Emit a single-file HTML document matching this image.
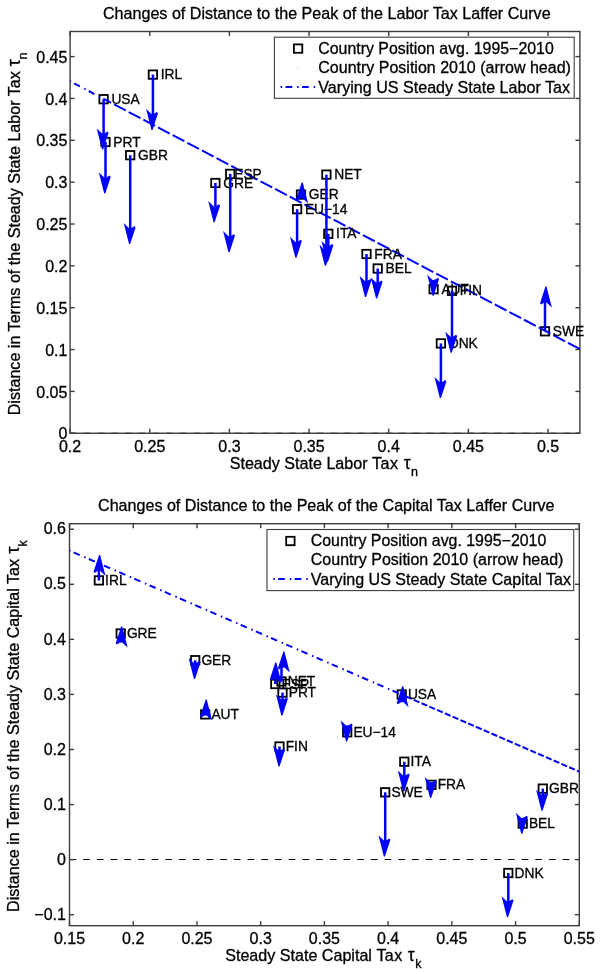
<!DOCTYPE html>
<html><head><meta charset="utf-8"><style>
html,body{margin:0;padding:0;background:#fff;}
body{width:600px;height:974px;overflow:hidden;}
svg{display:block;will-change:transform;}
text{font-family:"Liberation Sans", sans-serif;font-size:16px;fill:#000;stroke:#000;stroke-width:0.3px;}
text.lb{font-size:13.8px;}
.tau{font-size:17.5px;}
.sub{font-size:12.5px;}
</style></head><body>
<svg width="600" height="974" viewBox="0 0 600 974">
<rect width="600" height="974" fill="#fff"/>

<text x="326.8" y="18.6" text-anchor="middle" style="font-size:16.1px">Changes of Distance to the Peak of the Labor Tax Laffer Curve</text>
<line x1="70.1" y1="433.25" x2="579.9" y2="433.25" stroke="#000" stroke-width="1.1" stroke-dasharray="6.7 7"/>
<g stroke="#3c3c3c" stroke-width="1.4" fill="none">
<line x1="70.1" y1="433.25" x2="70.1" y2="428.75"/>
<line x1="70.1" y1="31.5" x2="70.1" y2="36"/>
<line x1="149.76" y1="433.25" x2="149.76" y2="428.75"/>
<line x1="149.76" y1="31.5" x2="149.76" y2="36"/>
<line x1="229.41" y1="433.25" x2="229.41" y2="428.75"/>
<line x1="229.41" y1="31.5" x2="229.41" y2="36"/>
<line x1="309.07" y1="433.25" x2="309.07" y2="428.75"/>
<line x1="309.07" y1="31.5" x2="309.07" y2="36"/>
<line x1="388.73" y1="433.25" x2="388.73" y2="428.75"/>
<line x1="388.73" y1="31.5" x2="388.73" y2="36"/>
<line x1="468.38" y1="433.25" x2="468.38" y2="428.75"/>
<line x1="468.38" y1="31.5" x2="468.38" y2="36"/>
<line x1="548.04" y1="433.25" x2="548.04" y2="428.75"/>
<line x1="548.04" y1="31.5" x2="548.04" y2="36"/>
<line x1="70.1" y1="433.25" x2="74.6" y2="433.25"/>
<line x1="579.9" y1="433.25" x2="575.4" y2="433.25"/>
<line x1="70.1" y1="391.4" x2="74.6" y2="391.4"/>
<line x1="579.9" y1="391.4" x2="575.4" y2="391.4"/>
<line x1="70.1" y1="349.55" x2="74.6" y2="349.55"/>
<line x1="579.9" y1="349.55" x2="575.4" y2="349.55"/>
<line x1="70.1" y1="307.7" x2="74.6" y2="307.7"/>
<line x1="579.9" y1="307.7" x2="575.4" y2="307.7"/>
<line x1="70.1" y1="265.85" x2="74.6" y2="265.85"/>
<line x1="579.9" y1="265.85" x2="575.4" y2="265.85"/>
<line x1="70.1" y1="224.01" x2="74.6" y2="224.01"/>
<line x1="579.9" y1="224.01" x2="575.4" y2="224.01"/>
<line x1="70.1" y1="182.16" x2="74.6" y2="182.16"/>
<line x1="579.9" y1="182.16" x2="575.4" y2="182.16"/>
<line x1="70.1" y1="140.31" x2="74.6" y2="140.31"/>
<line x1="579.9" y1="140.31" x2="575.4" y2="140.31"/>
<line x1="70.1" y1="98.46" x2="74.6" y2="98.46"/>
<line x1="579.9" y1="98.46" x2="575.4" y2="98.46"/>
<line x1="70.1" y1="56.61" x2="74.6" y2="56.61"/>
<line x1="579.9" y1="56.61" x2="575.4" y2="56.61"/>
<rect x="70.1" y="31.5" width="509.8" height="401.75" fill="none"/>
</g>
<text x="70.1" y="451.85" text-anchor="middle">0.2</text>
<text x="149.76" y="451.85" text-anchor="middle">0.25</text>
<text x="229.41" y="451.85" text-anchor="middle">0.3</text>
<text x="309.07" y="451.85" text-anchor="middle">0.35</text>
<text x="388.73" y="451.85" text-anchor="middle">0.4</text>
<text x="468.38" y="451.85" text-anchor="middle">0.45</text>
<text x="548.04" y="451.85" text-anchor="middle">0.5</text>
<text x="67.4" y="439.35" text-anchor="end">0</text>
<text x="67.4" y="397.5" text-anchor="end">0.05</text>
<text x="67.4" y="355.65" text-anchor="end">0.1</text>
<text x="67.4" y="313.8" text-anchor="end">0.15</text>
<text x="67.4" y="271.95" text-anchor="end">0.2</text>
<text x="67.4" y="230.11" text-anchor="end">0.25</text>
<text x="67.4" y="188.26" text-anchor="end">0.3</text>
<text x="67.4" y="146.41" text-anchor="end">0.35</text>
<text x="67.4" y="104.56" text-anchor="end">0.4</text>
<text x="67.4" y="62.71" text-anchor="end">0.45</text>
<rect x="148.7" y="70.4" width="8.4" height="8.4" fill="none" stroke="#000" stroke-width="1.8"/>
<rect x="99.4" y="95" width="8.4" height="8.4" fill="none" stroke="#000" stroke-width="1.8"/>
<rect x="101.3" y="137.8" width="8.4" height="8.4" fill="none" stroke="#000" stroke-width="1.8"/>
<rect x="126" y="151" width="8.4" height="8.4" fill="none" stroke="#000" stroke-width="1.8"/>
<rect x="226" y="169.7" width="8.4" height="8.4" fill="none" stroke="#000" stroke-width="1.8"/>
<rect x="211.2" y="178.8" width="8.4" height="8.4" fill="none" stroke="#000" stroke-width="1.8"/>
<rect x="322.2" y="170.4" width="8.4" height="8.4" fill="none" stroke="#000" stroke-width="1.8"/>
<rect x="296.8" y="190.4" width="8.4" height="8.4" fill="none" stroke="#000" stroke-width="1.8"/>
<rect x="292.9" y="205" width="8.4" height="8.4" fill="none" stroke="#000" stroke-width="1.8"/>
<rect x="324.1" y="229.6" width="8.4" height="8.4" fill="none" stroke="#000" stroke-width="1.8"/>
<rect x="362.3" y="249.8" width="8.4" height="8.4" fill="none" stroke="#000" stroke-width="1.8"/>
<rect x="373.5" y="264.3" width="8.4" height="8.4" fill="none" stroke="#000" stroke-width="1.8"/>
<rect x="429.4" y="285" width="8.4" height="8.4" fill="none" stroke="#000" stroke-width="1.8"/>
<rect x="447.8" y="286.6" width="8.4" height="8.4" fill="none" stroke="#000" stroke-width="1.8"/>
<rect x="436.7" y="339.2" width="8.4" height="8.4" fill="none" stroke="#000" stroke-width="1.8"/>
<rect x="540.8" y="327.1" width="8.4" height="8.4" fill="none" stroke="#000" stroke-width="1.8"/>
<line x1="70.1" y1="81.2" x2="103.7" y2="98.86" stroke="#0000ff" stroke-width="2" stroke-dasharray="1.5 3.6 6.5 4.9" stroke-dashoffset="0.52"/>
<line x1="103.7" y1="98.86" x2="579.9" y2="349.1" stroke="#0000ff" stroke-width="2" stroke-dasharray="13.2 3.34" stroke-dashoffset="4.8"/>
<text x="160.7" y="79.2" class="lb">IRL</text>
<text x="111.4" y="103.8" class="lb">USA</text>
<text x="113.3" y="146.6" class="lb">PRT</text>
<text x="138" y="159.8" class="lb">GBR</text>
<text x="234.2" y="178.5" class="lb">ESP</text>
<text x="223.2" y="187.6" class="lb">GRE</text>
<text x="334.2" y="179.2" class="lb">NET</text>
<text x="308.8" y="199.2" class="lb">GER</text>
<text x="304.9" y="213.8" class="lb">EU−14</text>
<text x="336.1" y="238.4" class="lb">ITA</text>
<text x="374.3" y="258.6" class="lb">FRA</text>
<text x="385.5" y="273.1" class="lb">BEL</text>
<text x="441.4" y="293.8" class="lb">AUT</text>
<text x="459.8" y="295.4" class="lb">FIN</text>
<text x="448.7" y="348" class="lb">DNK</text>
<text x="552.8" y="335.9" class="lb">SWE</text>
<line x1="152.9" y1="74.6" x2="152.9" y2="115" stroke="#0000ff" stroke-width="2.5"/>
<polygon points="151.45,130 152.55,130 158,113.3 156.8,112 154.1,113.8 151.5,114.1 146.1,108.9" fill="#0000ff"/>
<line x1="103.6" y1="99.2" x2="103.6" y2="134.5" stroke="#0000ff" stroke-width="2.5"/>
<polygon points="102.05,149.5 103.15,149.5 108.6,132.8 107.4,131.5 104.7,133.3 102.1,133.6 96.7,128.4" fill="#0000ff"/>
<line x1="105.5" y1="142" x2="105.5" y2="178.5" stroke="#0000ff" stroke-width="2.5"/>
<polygon points="104.2,193.5 105.3,193.5 110.75,176.8 109.55,175.5 106.85,177.3 104.25,177.6 98.85,172.4" fill="#0000ff"/>
<line x1="130.2" y1="155.2" x2="130.2" y2="229.1" stroke="#0000ff" stroke-width="2.5"/>
<polygon points="129.05,244.1 130.15,244.1 135.6,227.4 134.4,226.1 131.7,227.9 129.1,228.2 123.7,223" fill="#0000ff"/>
<line x1="230.2" y1="173.9" x2="230.2" y2="237.2" stroke="#0000ff" stroke-width="2.5"/>
<polygon points="228.45,252.2 229.55,252.2 235,235.5 233.8,234.2 231.1,236 228.5,236.3 223.1,231.1" fill="#0000ff"/>
<line x1="215.4" y1="183" x2="215.4" y2="207.2" stroke="#0000ff" stroke-width="2.5"/>
<polygon points="213.55,222.2 214.65,222.2 220.1,205.5 218.9,204.2 216.2,206 213.6,206.3 208.2,201.1" fill="#0000ff"/>
<line x1="326.4" y1="174.6" x2="326.4" y2="250.8" stroke="#0000ff" stroke-width="2.5"/>
<polygon points="324.85,265.8 325.95,265.8 331.4,249.1 330.2,247.8 327.5,249.6 324.9,249.9 319.5,244.7" fill="#0000ff"/>
<polygon points="302.75,182.4 301.65,182.4 296.2,199.1 297.4,200.4 300.1,198.6 302.7,198.3 308.1,203.5" fill="#0000ff"/>
<line x1="297.1" y1="209.2" x2="297.1" y2="242.8" stroke="#0000ff" stroke-width="2.5"/>
<polygon points="295.35,257.8 296.45,257.8 301.9,241.1 300.7,239.8 298,241.6 295.4,241.9 290,236.7" fill="#0000ff"/>
<line x1="328.3" y1="233.8" x2="328.3" y2="247" stroke="#0000ff" stroke-width="2.5"/>
<polygon points="326.85,262 327.95,262 333.4,245.3 332.2,244 329.5,245.8 326.9,246.1 321.5,240.9" fill="#0000ff"/>
<line x1="366.5" y1="254" x2="366.5" y2="282" stroke="#0000ff" stroke-width="2.5"/>
<polygon points="364.95,297 366.05,297 371.5,280.3 370.3,279 367.6,280.8 365,281.1 359.6,275.9" fill="#0000ff"/>
<line x1="377.7" y1="268.5" x2="377.7" y2="283.5" stroke="#0000ff" stroke-width="2.5"/>
<polygon points="376.05,298.5 377.15,298.5 382.6,281.8 381.4,280.5 378.7,282.3 376.1,282.6 370.7,277.4" fill="#0000ff"/>
<polygon points="432.55,295.8 433.65,295.8 439.1,279.1 437.9,277.8 435.2,279.6 432.6,279.9 427.2,274.7" fill="#0000ff"/>
<line x1="452" y1="290.8" x2="452" y2="337.8" stroke="#0000ff" stroke-width="2.5"/>
<polygon points="450.65,352.8 451.75,352.8 457.2,336.1 456,334.8 453.3,336.6 450.7,336.9 445.3,331.7" fill="#0000ff"/>
<line x1="440.9" y1="343.4" x2="440.9" y2="383.1" stroke="#0000ff" stroke-width="2.5"/>
<polygon points="439.85,398.1 440.95,398.1 446.4,381.4 445.2,380.1 442.5,381.9 439.9,382.2 434.5,377" fill="#0000ff"/>
<line x1="545" y1="331.3" x2="545" y2="301.5" stroke="#0000ff" stroke-width="2.5"/>
<polygon points="546.55,286.5 545.45,286.5 540,303.2 541.2,304.5 543.9,302.7 546.5,302.4 551.9,307.6" fill="#0000ff"/>
<text x="229.7" y="468.5" style="font-size:16.12px">Steady State Labor <tspan x="372" letter-spacing="0.5">Tax</tspan> <tspan x="403.8" class="tau">τ</tspan><tspan x="411" dy="7.7" class="sub">n</tspan></text>
<text transform="translate(19.5,415.3) rotate(-90)" style="font-size:16.12px">Distance in Terms of the Steady State Labor Tax <tspan x="349.1" class="tau">τ</tspan><tspan x="355.9" dy="7.7" class="sub">n</tspan></text>
<rect x="274.4" y="37.2" width="299.8" height="61.1" fill="#fff" stroke="#3c3c3c" stroke-width="1.1"/>
<rect x="293.9" y="44.4" width="8.4" height="8.4" fill="none" stroke="#000" stroke-width="1.8"/>
<circle cx="297.8" cy="67.5" r="0.7" fill="#ddd"/>
<line x1="280.65" y1="86.9" x2="315.3" y2="86.9" stroke="#0000ff" stroke-width="2" stroke-dasharray="1.5 3.4 6.7 4.9"/>
<text x="318.3" y="54" style="font-size:15.9px">Country Position avg. 1995−2010</text>
<text x="318.3" y="73.2">Country Position 2010 (arrow head)</text>
<text x="318.3" y="92.5" style="font-size:16.1px">Varying US Steady State Labor Tax</text>
<text x="326.3" y="510.9" text-anchor="middle" style="font-size:16.1px">Changes of Distance to the Peak of the Capital Tax Laffer Curve</text>
<line x1="69.5" y1="859.55" x2="579.3" y2="859.55" stroke="#000" stroke-width="1.1" stroke-dasharray="6.7 7"/>
<g stroke="#3c3c3c" stroke-width="1.4" fill="none">
<line x1="69.5" y1="925.7" x2="69.5" y2="921.2"/>
<line x1="69.5" y1="523.7" x2="69.5" y2="528.2"/>
<line x1="133.23" y1="925.7" x2="133.23" y2="921.2"/>
<line x1="133.23" y1="523.7" x2="133.23" y2="528.2"/>
<line x1="196.95" y1="925.7" x2="196.95" y2="921.2"/>
<line x1="196.95" y1="523.7" x2="196.95" y2="528.2"/>
<line x1="260.68" y1="925.7" x2="260.68" y2="921.2"/>
<line x1="260.68" y1="523.7" x2="260.68" y2="528.2"/>
<line x1="324.4" y1="925.7" x2="324.4" y2="921.2"/>
<line x1="324.4" y1="523.7" x2="324.4" y2="528.2"/>
<line x1="388.12" y1="925.7" x2="388.12" y2="921.2"/>
<line x1="388.12" y1="523.7" x2="388.12" y2="528.2"/>
<line x1="451.85" y1="925.7" x2="451.85" y2="921.2"/>
<line x1="451.85" y1="523.7" x2="451.85" y2="528.2"/>
<line x1="515.58" y1="925.7" x2="515.58" y2="921.2"/>
<line x1="515.58" y1="523.7" x2="515.58" y2="528.2"/>
<line x1="579.3" y1="925.7" x2="579.3" y2="921.2"/>
<line x1="579.3" y1="523.7" x2="579.3" y2="528.2"/>
<line x1="69.5" y1="914.69" x2="74" y2="914.69"/>
<line x1="579.3" y1="914.69" x2="574.8" y2="914.69"/>
<line x1="69.5" y1="859.62" x2="74" y2="859.62"/>
<line x1="579.3" y1="859.62" x2="574.8" y2="859.62"/>
<line x1="69.5" y1="804.55" x2="74" y2="804.55"/>
<line x1="579.3" y1="804.55" x2="574.8" y2="804.55"/>
<line x1="69.5" y1="749.48" x2="74" y2="749.48"/>
<line x1="579.3" y1="749.48" x2="574.8" y2="749.48"/>
<line x1="69.5" y1="694.41" x2="74" y2="694.41"/>
<line x1="579.3" y1="694.41" x2="574.8" y2="694.41"/>
<line x1="69.5" y1="639.34" x2="74" y2="639.34"/>
<line x1="579.3" y1="639.34" x2="574.8" y2="639.34"/>
<line x1="69.5" y1="584.28" x2="74" y2="584.28"/>
<line x1="579.3" y1="584.28" x2="574.8" y2="584.28"/>
<line x1="69.5" y1="529.21" x2="74" y2="529.21"/>
<line x1="579.3" y1="529.21" x2="574.8" y2="529.21"/>
<rect x="69.5" y="523.7" width="509.8" height="402" fill="none"/>
</g>
<text x="69.5" y="943.8" text-anchor="middle">0.15</text>
<text x="133.23" y="943.8" text-anchor="middle">0.2</text>
<text x="196.95" y="943.8" text-anchor="middle">0.25</text>
<text x="260.68" y="943.8" text-anchor="middle">0.3</text>
<text x="324.4" y="943.8" text-anchor="middle">0.35</text>
<text x="388.12" y="943.8" text-anchor="middle">0.4</text>
<text x="451.85" y="943.8" text-anchor="middle">0.45</text>
<text x="515.58" y="943.8" text-anchor="middle">0.5</text>
<text x="579.3" y="943.8" text-anchor="middle">0.55</text>
<text x="65.9" y="919.89" text-anchor="end">−0.1</text>
<text x="65.9" y="864.82" text-anchor="end">0</text>
<text x="65.9" y="809.75" text-anchor="end">0.1</text>
<text x="65.9" y="754.68" text-anchor="end">0.2</text>
<text x="65.9" y="699.61" text-anchor="end">0.3</text>
<text x="65.9" y="644.54" text-anchor="end">0.4</text>
<text x="65.9" y="589.48" text-anchor="end">0.5</text>
<text x="65.9" y="534.41" text-anchor="end">0.6</text>
<rect x="94.7" y="576.2" width="8.4" height="8.4" fill="none" stroke="#000" stroke-width="1.8"/>
<rect x="116.5" y="629.3" width="8.4" height="8.4" fill="none" stroke="#000" stroke-width="1.8"/>
<rect x="191" y="656" width="8.4" height="8.4" fill="none" stroke="#000" stroke-width="1.8"/>
<rect x="277.3" y="677.3" width="8.4" height="8.4" fill="none" stroke="#000" stroke-width="1.8"/>
<rect x="271.1" y="679.8" width="8.4" height="8.4" fill="none" stroke="#000" stroke-width="1.8"/>
<rect x="278.3" y="688.4" width="8.4" height="8.4" fill="none" stroke="#000" stroke-width="1.8"/>
<rect x="201" y="710.2" width="8.4" height="8.4" fill="none" stroke="#000" stroke-width="1.8"/>
<rect x="275.3" y="742.3" width="8.4" height="8.4" fill="none" stroke="#000" stroke-width="1.8"/>
<rect x="343" y="728.1" width="8.4" height="8.4" fill="none" stroke="#000" stroke-width="1.8"/>
<rect x="397.5" y="690.3" width="8.4" height="8.4" fill="none" stroke="#000" stroke-width="1.8"/>
<rect x="400.1" y="757.5" width="8.4" height="8.4" fill="none" stroke="#000" stroke-width="1.8"/>
<rect x="381" y="788.1" width="8.4" height="8.4" fill="none" stroke="#000" stroke-width="1.8"/>
<rect x="427.3" y="780.6" width="8.4" height="8.4" fill="none" stroke="#000" stroke-width="1.8"/>
<rect x="538.6" y="784.4" width="8.4" height="8.4" fill="none" stroke="#000" stroke-width="1.8"/>
<rect x="518.5" y="819.4" width="8.4" height="8.4" fill="none" stroke="#000" stroke-width="1.8"/>
<rect x="504.1" y="868.8" width="8.4" height="8.4" fill="none" stroke="#000" stroke-width="1.8"/>
<line x1="69.5" y1="550.64" x2="401.7" y2="694.62" stroke="#0000ff" stroke-width="2" stroke-dasharray="1.5 3.5 6.6 4.95" stroke-dashoffset="0.48"/>
<line x1="401.7" y1="694.62" x2="579.3" y2="771.6" stroke="#0000ff" stroke-width="2" stroke-dasharray="6.2 2.27" stroke-dashoffset="3.81"/>
<text x="105.1" y="585" class="lb">IRL</text>
<text x="126.9" y="638.1" class="lb">GRE</text>
<text x="201.4" y="664.8" class="lb">GER</text>
<text x="287.7" y="686.1" class="lb">NET</text>
<text x="281.5" y="688.6" class="lb">ESP</text>
<text x="288.7" y="697.2" class="lb">PRT</text>
<text x="211.4" y="719" class="lb">AUT</text>
<text x="285.7" y="751.1" class="lb">FIN</text>
<text x="353.4" y="736.9" class="lb">EU−14</text>
<text x="407.9" y="699.1" class="lb">USA</text>
<text x="410.5" y="766.3" class="lb">ITA</text>
<text x="391.4" y="796.9" class="lb">SWE</text>
<text x="437.7" y="789.4" class="lb">FRA</text>
<text x="549" y="793.2" class="lb">GBR</text>
<text x="528.9" y="828.2" class="lb">BEL</text>
<text x="514.5" y="877.6" class="lb">DNK</text>
<line x1="98.9" y1="580.4" x2="98.9" y2="569.9" stroke="#0000ff" stroke-width="2.5"/>
<polygon points="100.15,554.9 99.05,554.9 93.6,571.6 94.8,572.9 97.5,571.1 100.1,570.8 105.5,576" fill="#0000ff"/>
<polygon points="122.25,626.5 121.15,626.5 115.7,643.2 116.9,644.5 119.6,642.7 122.2,642.4 127.6,647.6" fill="#0000ff"/>
<line x1="195.2" y1="660.2" x2="195.2" y2="664" stroke="#0000ff" stroke-width="2.5"/>
<polygon points="193.95,679 195.05,679 200.5,662.3 199.3,661 196.6,662.8 194,663.1 188.6,657.9" fill="#0000ff"/>
<line x1="281.5" y1="681.5" x2="281.5" y2="666.5" stroke="#0000ff" stroke-width="2.5"/>
<polygon points="284.45,651.5 283.35,651.5 277.9,668.2 279.1,669.5 281.8,667.7 284.4,667.4 289.8,672.6" fill="#0000ff"/>
<line x1="275.3" y1="684" x2="275.3" y2="677.6" stroke="#0000ff" stroke-width="2.5"/>
<polygon points="276.35,662.6 275.25,662.6 269.8,679.3 271,680.6 273.7,678.8 276.3,678.5 281.7,683.7" fill="#0000ff"/>
<line x1="282.5" y1="692.6" x2="282.5" y2="700.5" stroke="#0000ff" stroke-width="2.5"/>
<polygon points="281.35,715.5 282.45,715.5 287.9,698.8 286.7,697.5 284,699.3 281.4,699.6 276,694.4" fill="#0000ff"/>
<polygon points="206.75,699.5 205.65,699.5 200.2,716.2 201.4,717.5 204.1,715.7 206.7,715.4 212.1,720.6" fill="#0000ff"/>
<line x1="279.5" y1="746.5" x2="279.5" y2="751.5" stroke="#0000ff" stroke-width="2.5"/>
<polygon points="278.45,766.5 279.55,766.5 285,749.8 283.8,748.5 281.1,750.3 278.5,750.6 273.1,745.4" fill="#0000ff"/>
<polygon points="346.05,741.5 347.15,741.5 352.6,724.8 351.4,723.5 348.7,725.3 346.1,725.6 340.7,720.4" fill="#0000ff"/>
<polygon points="403.25,686.2 402.15,686.2 396.7,702.9 397.9,704.2 400.6,702.4 403.2,702.1 408.6,707.3" fill="#0000ff"/>
<line x1="404.3" y1="761.7" x2="404.3" y2="776.5" stroke="#0000ff" stroke-width="2.5"/>
<polygon points="403.15,791.5 404.25,791.5 409.7,774.8 408.5,773.5 405.8,775.3 403.2,775.6 397.8,770.4" fill="#0000ff"/>
<line x1="385.2" y1="792.3" x2="385.2" y2="841.5" stroke="#0000ff" stroke-width="2.5"/>
<polygon points="383.85,856.5 384.95,856.5 390.4,839.8 389.2,838.5 386.5,840.3 383.9,840.6 378.5,835.4" fill="#0000ff"/>
<polygon points="430.05,798.1 431.15,798.1 436.6,781.4 435.4,780.1 432.7,781.9 430.1,782.2 424.7,777" fill="#0000ff"/>
<line x1="542.8" y1="788.6" x2="542.8" y2="795.8" stroke="#0000ff" stroke-width="2.5"/>
<polygon points="541.45,810.8 542.55,810.8 548,794.1 546.8,792.8 544.1,794.6 541.5,794.9 536.1,789.7" fill="#0000ff"/>
<polygon points="521.25,833.8 522.35,833.8 527.8,817.1 526.6,815.8 523.9,817.6 521.3,817.9 515.9,812.7" fill="#0000ff"/>
<line x1="508.3" y1="873" x2="508.3" y2="902.3" stroke="#0000ff" stroke-width="2.5"/>
<polygon points="506.95,917.3 508.05,917.3 513.5,900.6 512.3,899.3 509.6,901.1 507,901.4 501.6,896.2" fill="#0000ff"/>
<text x="225.2" y="960.5" style="font-size:16.1px">Steady State Capital <tspan letter-spacing="0.4">Tax</tspan> <tspan x="407.8" class="tau">τ</tspan><tspan x="415.3" dy="7.8" class="sub">k</tspan></text>
<text transform="translate(19,912) rotate(-90)" style="font-size:16.12px">Distance in Terms of the Steady State Capital Tax <tspan x="358.5" class="tau">τ</tspan><tspan x="365.5" dy="7.8" class="sub">k</tspan></text>
<rect x="267" y="529.5" width="306.7" height="61.1" fill="#fff" stroke="#3c3c3c" stroke-width="1.1"/>
<rect x="286.2" y="536.8" width="8.4" height="8.4" fill="none" stroke="#000" stroke-width="1.8"/>
<circle cx="290.2" cy="560" r="0.7" fill="#ddd"/>
<line x1="273.25" y1="579.1" x2="308" y2="579.1" stroke="#0000ff" stroke-width="2" stroke-dasharray="1.5 3.4 6.7 4.9"/>
<text x="310.8" y="546" style="font-size:15.9px">Country Position avg. 1995−2010</text>
<text x="310.8" y="565.2">Country Position 2010 (arrow head)</text>
<text x="310.8" y="584.5" style="font-size:16.07px">Varying US Steady State Capital Tax</text>
</svg>
</body></html>
